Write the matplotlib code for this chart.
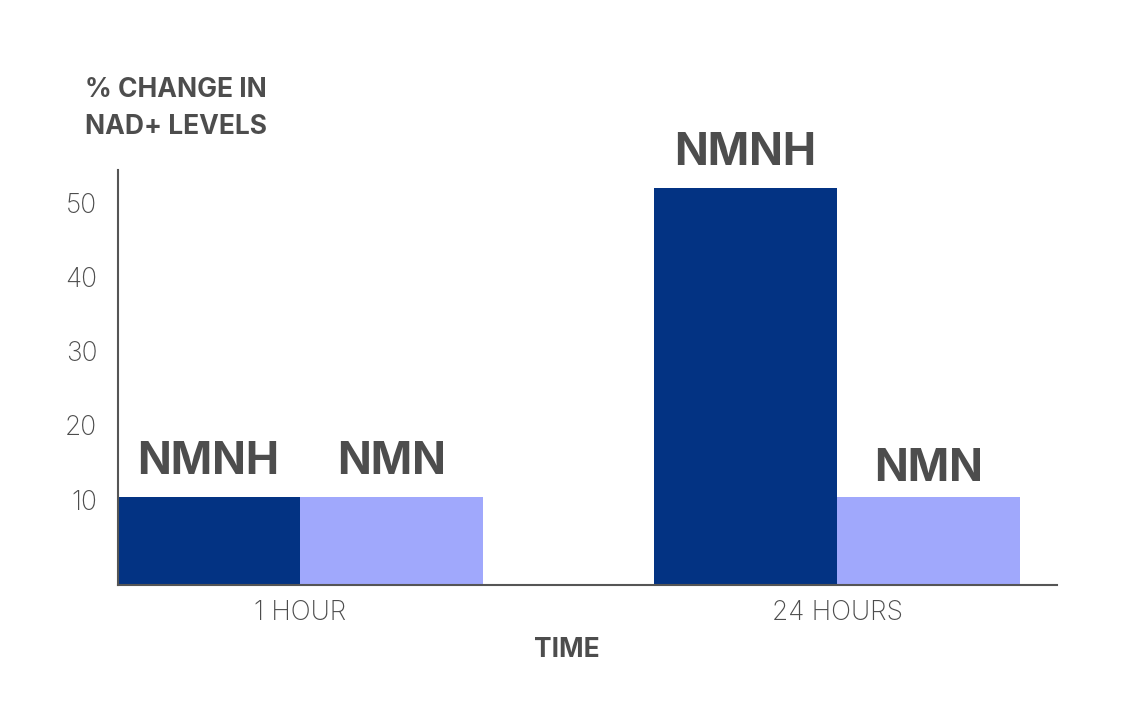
import matplotlib
matplotlib.use("Agg")
import matplotlib.pyplot as plt
import numpy as np

groups = ["1 HOUR", "24 HOURS"]
series = ["NMNH", "NMN"]
nmnh = [10.4, 52.0]
nmn = [10.4, 10.4]
yticks = [10, 20, 30, 40, 50]

dark = "#033383"
light = "#A0A8FC"
txt = "#4d4d4d"

plt.rcParams['font.family'] = ['Inter', 'DejaVu Sans']

fig = plt.figure(figsize=(11.4, 7.17), dpi=100)
ax = fig.add_axes([118/1140, 1-585/717, (1057-118)/1140, (585-170)/717])

ymin, ymax = -1.5, 54.4
x = np.array([0.0, 1.0])
w = 183/537
vals_list = [nmnh, nmn]
cols = [dark, light]
label_offsets = [[10, 10], [10, 5]]
for i, (vals, c, name) in enumerate(zip(vals_list, cols, series)):
    pos = x + (i - 0.5) * w
    heights = [v - ymin for v in vals]
    ax.bar(pos, heights, width=w, bottom=ymin, color=c, linewidth=0)
    for p, v, off in zip(pos, vals, label_offsets[i]):
        ax.annotate(name, (p, v), xytext=(0, off), textcoords="offset points",
                    ha="center", va="bottom", fontsize=32, fontweight="bold",
                    color=txt)

ax.set_xlim(-(300-118)/537, 1 + (1057-837)/537)
ax.set_ylim(ymin, ymax)
ax.set_xticks(x)
ax.set_xticklabels(groups, fontsize=19, color=txt, fontweight="light")
ax.set_yticks(yticks)
ax.set_yticklabels([str(t) for t in yticks], fontsize=19, color=txt, fontweight="light")
ax.tick_params(axis="both", length=0)
ax.tick_params(axis="x", pad=11)
ax.tick_params(axis="y", pad=15)

for s in ["top", "right"]:
    ax.spines[s].set_visible(False)
for s in ["left", "bottom"]:
    ax.spines[s].set_color("#555555")
    ax.spines[s].set_linewidth(1.5)

ax.set_xlabel("TIME", fontsize=19, fontweight="bold", color=txt)
ax.xaxis.set_label_coords((567-118)/(1057-118), -(650-585)/(585-170), transform=ax.transAxes)
ax.xaxis.label.set_va("center")

fig.text(85/1140, 1-77/717, "% CHANGE IN\nNAD+ LEVELS", fontsize=19, fontweight="bold",
         color=txt, ha="left", va="top", linespacing=1.55)

fig.savefig("out.png", dpi=100)
